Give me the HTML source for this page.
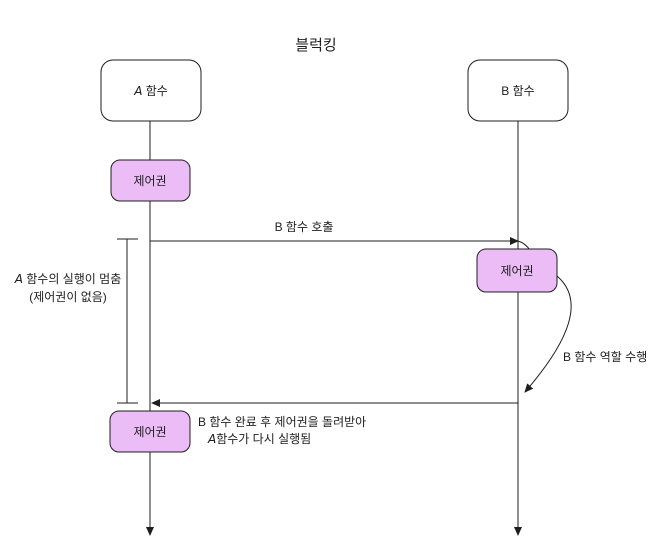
<!DOCTYPE html>
<html><head><meta charset="utf-8"><style>
body{margin:0;background:#fff;}
text{font-family:"Liberation Sans","Noto Sans CJK KR",sans-serif;font-size:12px;fill:#1e1e1e;}
</style></head><body>
<svg width="672" height="550" viewBox="0 0 672 550" xmlns="http://www.w3.org/2000/svg">
<defs><marker id="ar" markerWidth="10" markerHeight="10" refX="8" refY="5" orient="auto" markerUnits="userSpaceOnUse"><path d="M0,1 L9,5 L0,9 Z" fill="#1e1e1e"/></marker></defs>
<rect width="672" height="550" fill="#fff"/>
<text x="316" y="50" text-anchor="middle" style="font-size:15px">블럭킹</text>
<rect x="101" y="60" width="100" height="61" rx="12" fill="#fff" stroke="#1e1e1e"/>
<text x="151" y="95" text-anchor="middle">𝘈 함수</text>
<rect x="468" y="60" width="100" height="61" rx="12" fill="#fff" stroke="#1e1e1e"/>
<text x="518" y="95" text-anchor="middle">B 함수</text>
<line x1="150" y1="121" x2="150" y2="535" stroke="#1e1e1e" marker-end="url(#ar)"/>
<line x1="518" y1="121" x2="518" y2="535" stroke="#1e1e1e" marker-end="url(#ar)"/>
<rect x="111" y="160" width="79" height="41" rx="9" fill="#ebbcf5" stroke="#1e1e1e"/>
<text x="150" y="185" text-anchor="middle">제어권</text>
<line x1="150" y1="241" x2="518" y2="241" stroke="#1e1e1e" marker-end="url(#ar)"/>
<text x="304" y="231" text-anchor="middle">B 함수 호출</text>
<path d="M518,241 Q525,243 530,250" stroke="#1e1e1e" fill="none"/>
<rect x="477" y="249" width="80" height="43" rx="9" fill="#ebbcf5" stroke="#1e1e1e"/>
<text x="517" y="275" text-anchor="middle">제어권</text>
<path d="M557,276 C585,300 570,340 525,392" stroke="#1e1e1e" fill="none" marker-end="url(#ar)"/>
<text x="563" y="361">B 함수 역할 수행</text>
<line x1="127" y1="239" x2="127" y2="403" stroke="#1e1e1e"/>
<line x1="117" y1="239" x2="138" y2="239" stroke="#1e1e1e"/>
<line x1="117" y1="403" x2="138" y2="403" stroke="#1e1e1e"/>
<text x="68" y="283" text-anchor="middle">𝘈 함수의 실행이 멈춤</text>
<text x="68" y="301" text-anchor="middle">(제어권이 없음)</text>
<line x1="518" y1="403" x2="152" y2="403" stroke="#1e1e1e" marker-end="url(#ar)"/>
<rect x="110" y="411" width="80" height="41" rx="9" fill="#ebbcf5" stroke="#1e1e1e"/>
<text x="150" y="436" text-anchor="middle">제어권</text>
<text x="198" y="426">B 함수 완료 후 제어권을 돌려받아</text>
<text x="208" y="443">𝘈함수가 다시 실행됨</text>
</svg>
</body></html>
